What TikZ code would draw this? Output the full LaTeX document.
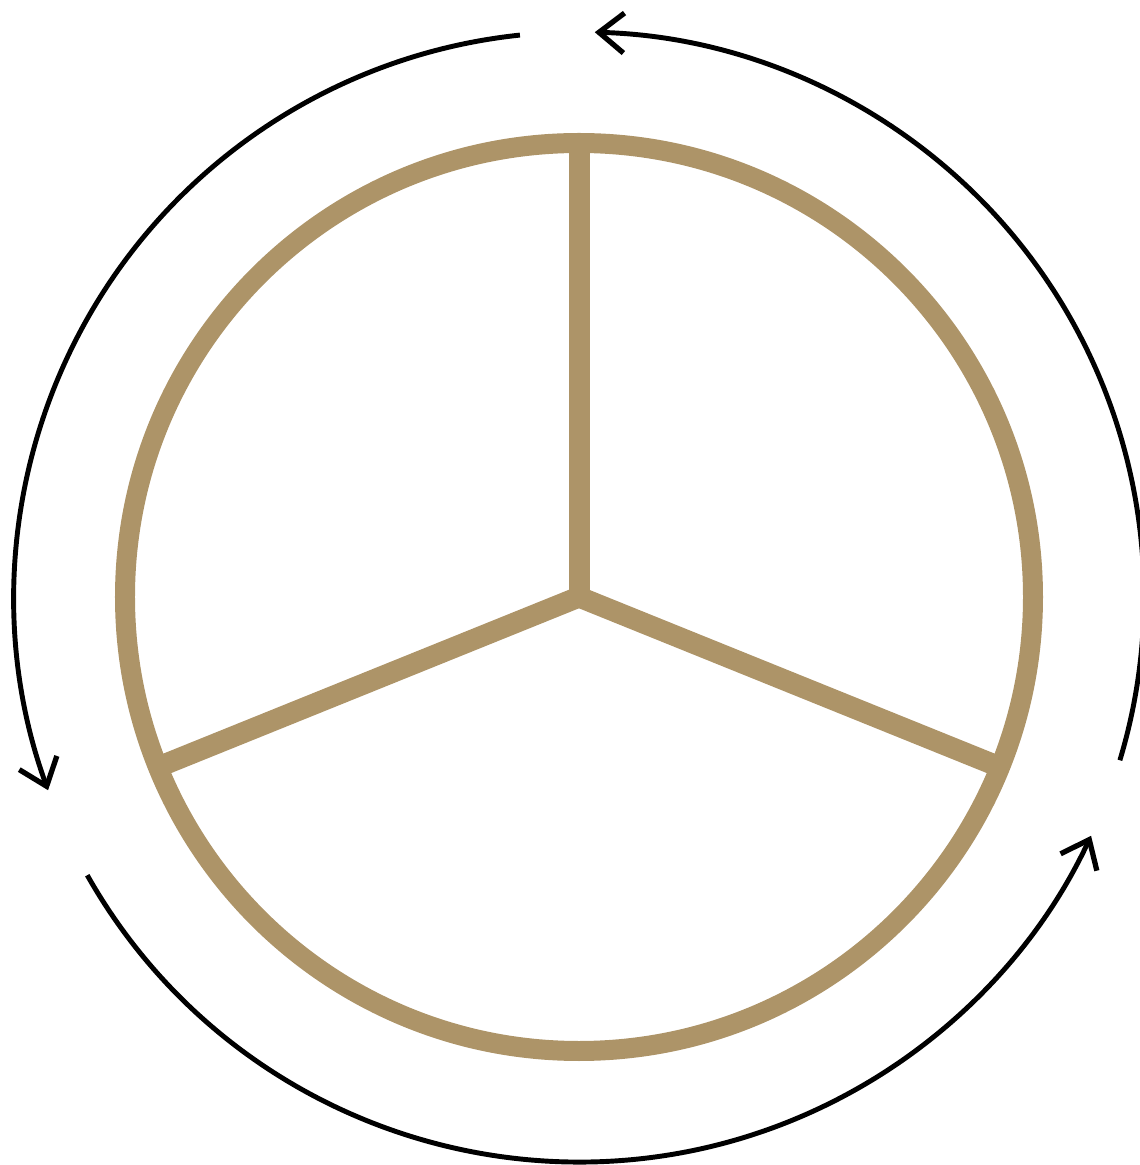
\documentclass[tikz,border=0pt]{standalone}
\usepackage{tikz}
\usetikzlibrary{arrows.meta}

\definecolor{ringtan}{RGB}{173,148,104}

\tikzset{
  ring/.style={draw=ringtan, line width=0.4cm},
  spoke/.style={draw=ringtan, line width=0.42cm},
  turn/.style={draw=black, line width=2.8pt,
    -{Straight Barb[length=0.5cm, width=0.8cm, line width=3pt]}}
}

\begin{document}
\begin{tikzpicture}[x=0.02cm, y=0.02cm]
        \useasboundingbox (-579,-568) rectangle (560,597);
        \coordinate (O) at (0,0);

        % Vòng tròn và ba nan
        \draw[ring] (O) circle (454);
        \draw[spoke] (O) -- (90:454);
        \draw[spoke] (O) -- (202:450);
        \draw[spoke] (O) -- (338:450);

        % Ba mũi tên quay ngược chiều kim đồng hồ
        \draw[turn] (96:565) arc[start angle=96, end angle=200, radius=565];
        \draw[turn] (209.5:565) arc[start angle=209.5, end angle=335, radius=565];
        \draw[turn] (-16.8:565) arc[start angle=-16.8, end angle=88.4, radius=565];
      \end{tikzpicture}
\end{document}
